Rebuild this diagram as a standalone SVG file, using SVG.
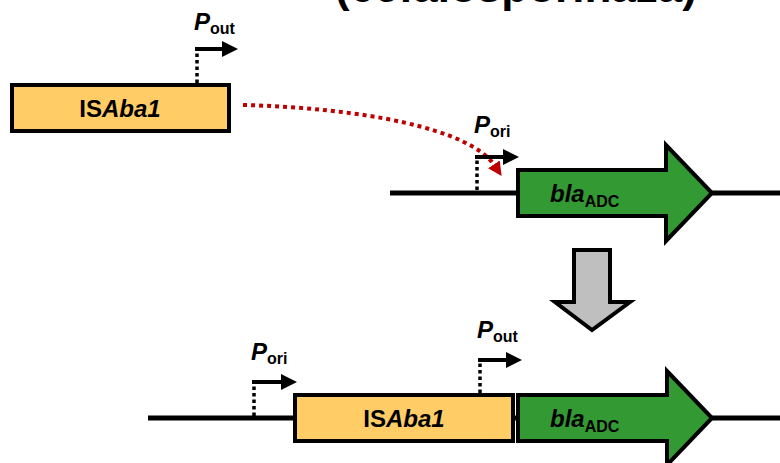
<svg xmlns="http://www.w3.org/2000/svg" width="780" height="463" viewBox="0 0 780 463">
<defs>
<style>
.t{font-family:"Liberation Sans","DejaVu Sans",sans-serif;font-weight:bold;fill:#000}
.ital{font-style:italic}
.dna{stroke:#000;stroke-width:5;fill:none}
.dot{stroke:#000;stroke-width:3.5;stroke-dasharray:3.5 3;fill:none}
.prom{stroke:#000;stroke-width:4;fill:none}
.is{fill:#FFCC66;stroke:#000;stroke-width:4}
.gene{fill:#339933;stroke:#000;stroke-width:4;stroke-linejoin:miter}
</style>
<marker id="ah" markerWidth="4" markerHeight="4" refX="0.5" refY="2" orient="auto" markerUnits="strokeWidth">
<path d="M0,0 L4,2 L0,4 Z" fill="#000"/>
</marker>
<marker id="rh" markerWidth="14" markerHeight="14" refX="2" refY="7" orient="auto" markerUnits="userSpaceOnUse">
<path d="M0,0 L14,7 L0,14 Z" fill="#C00000"/>
</marker>
</defs>
<text class="t" x="516" y="2" font-size="44" text-anchor="middle">(cefalosporinaza)</text>

<g id="connectors">
<path d="M243,105 C360,108 470,128 495,166" stroke="#C00000" stroke-width="4" stroke-dasharray="4 4" fill="none" marker-end="url(#rh)"/>
</g>

<g id="isaba1-top">
<rect class="is" x="12" y="85" width="217" height="46"/>
<text class="t" x="120" y="117" font-size="24" text-anchor="middle">IS<tspan class="ital">Aba1</tspan></text>
</g>
<g id="pout-top">
<path class="dot" d="M197,83 V50"/>
<path class="prom" d="M195,49 H224" marker-end="url(#ah)"/>
<text class="t ital" x="194" y="30" font-size="24">P<tspan font-size="16" font-style="normal" dy="4">out</tspan></text>
</g>

<g id="dna-middle">
<path class="dna" d="M390,193 H780"/>
</g>
<g id="pori-middle">
<path class="dot" d="M477,190 V158"/>
<path class="prom" d="M475,157 H505" marker-end="url(#ah)"/>
<text class="t ital" x="474" y="133" font-size="24">P<tspan font-size="16" font-style="normal" dy="4">ori</tspan></text>
</g>
<g id="bla-middle">
<path class="gene" d="M518,170 H666 V145 L712,193 L666,241 V216 H518 Z"/>
<text class="t ital" x="550" y="202" font-size="24">bla<tspan font-size="16" font-style="normal" dy="5">ADC</tspan></text>
</g>

<g id="down-arrow">
<path d="M574,250 H610 V302 H630 L592,330 L555,302 H574 Z" fill="#BFBFBF" stroke="#000" stroke-width="4"/>
</g>

<g id="dna-bottom">
<path class="dna" d="M148,418 H780"/>
</g>
<g id="pori-bottom">
<path class="dot" d="M254,416 V384"/>
<path class="prom" d="M252,382 H283" marker-end="url(#ah)"/>
<text class="t ital" x="251" y="360" font-size="24">P<tspan font-size="16" font-style="normal" dy="4">ori</tspan></text>
</g>
<g id="isaba1-bottom">
<rect class="is" x="295" y="395" width="218" height="46"/>
<text class="t" x="404" y="427" font-size="24" text-anchor="middle">IS<tspan class="ital">Aba1</tspan></text>
</g>
<g id="pout-bottom">
<path class="dot" d="M480,393 V362"/>
<path class="prom" d="M478,360 H508" marker-end="url(#ah)"/>
<text class="t ital" x="477" y="338" font-size="24">P<tspan font-size="16" font-style="normal" dy="4">out</tspan></text>
</g>
<g id="bla-bottom">
<path class="gene" d="M518,395 H667 V371 L712,418 L667,465 V441 H518 Z"/>
<text class="t ital" x="550" y="427" font-size="24">bla<tspan font-size="16" font-style="normal" dy="5">ADC</tspan></text>
</g>
</svg>
